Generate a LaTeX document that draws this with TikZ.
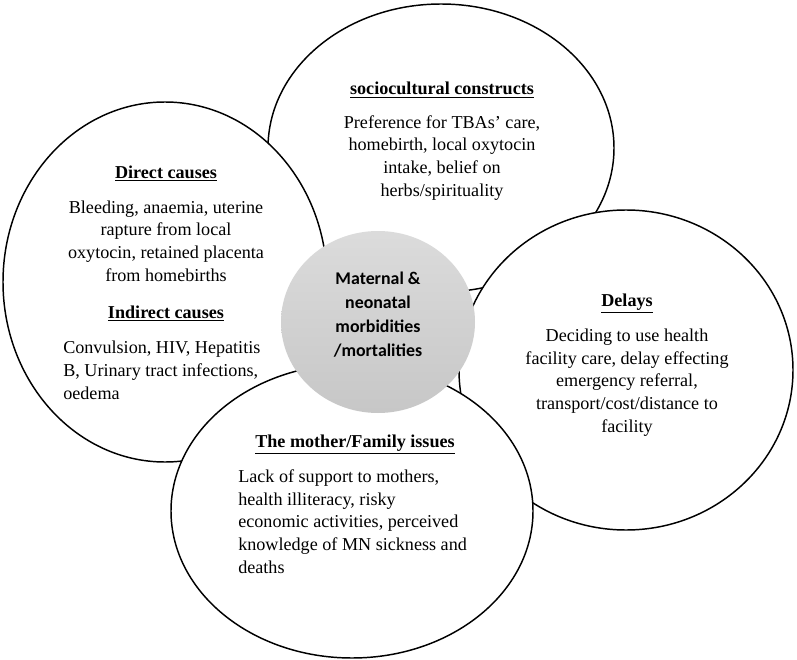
\documentclass[tikz,border=0pt]{standalone}
\usepackage{fontspec}
\setmainfont{Liberation Serif}
\newfontfamily\calibri{Carlito}
\usetikzlibrary{shapes.geometric}
\newcommand{\bubblehead}[1]{\underline{\textbf{#1}}}

\begin{document}
\begin{tikzpicture}[x=0.75pt, y=-0.75pt]

% Styles for the bubbles and their texts
\tikzstyle{bubble}=[ellipse, draw=black, fill=white, line width=1.1pt, inner sep=0pt]
\tikzstyle{core}=[ellipse, draw=none, top color=black!14, bottom color=black!22, inner sep=0pt]
\tikzstyle{bodytext}=[font=\fontsize{13.6}{17}\selectfont, inner sep=0pt]
\tikzstyle{coretext}=[font=\calibri\bfseries\fontsize{13.4}{18}\selectfont, inner sep=0pt]

\useasboundingbox (0,0) rectangle (797,660);

% Sociocultural constructs (back)
\node[bubble, minimum width=259.5pt, minimum height=216pt] (socio) at (441,148) {};
\node[bodytext, align=center, anchor=base] (sociotxt) at (442,196) {\bubblehead{sociocultural constructs}\\[7.8pt]
  Preference for TBAs’ care,\\ homebirth, local oxytocin\\ intake, belief on\\ herbs/spirituality};

% Delays
\node[bubble, minimum width=250.5pt, minimum height=240pt] (delay) at (626,370) {};
\node[bodytext, align=center, anchor=base] (delaytxt) at (627,432) {\bubblehead{Delays}\\[9.2pt]
  Deciding to use health\\ facility care, delay effecting\\ emergency referral,\\ transport/cost/distance to\\ facility};

% Direct and indirect causes
\node[bubble, minimum width=243pt, minimum height=270pt] (direct) at (165,282) {};
\node[bodytext, align=center, anchor=base] (directtxt) at (166,318) {\bubblehead{Direct causes}\\[9.2pt]
  Bleeding, anaemia, uterine\\ rapture from local\\ oxytocin, retained placenta\\ from homebirths\\[10.7pt]
  \bubblehead{Indirect causes}};
\node[bodytext, align=left, anchor=base west] (indirecttxt) at (63,399) {Convulsion, HIV, Hepatitis\\
  B, Urinary tract infections,\\ oedema};

% The mother/Family issues
\node[bubble, minimum width=271.5pt, minimum height=220.5pt] (mother) at (352,511) {};
\node[bodytext, anchor=base] (mothertitle) at (355,447) {\bubblehead{The mother/Family issues}};
\node[bodytext, align=left, anchor=base west] (mothertxt) at (238,573) {Lack of support to mothers,\\
  health illiteracy, risky\\ economic activities, perceived\\ knowledge of MN sickness and\\ deaths};

% Centre
\node[core, minimum width=145.5pt, minimum height=136.5pt] (centre) at (378,322) {};
\node[coretext, align=center, anchor=base] (centretxt) at (378,356) {Maternal \&\\ neonatal\\ morbidities\\ /mortalities};

\end{tikzpicture}
\end{document}
